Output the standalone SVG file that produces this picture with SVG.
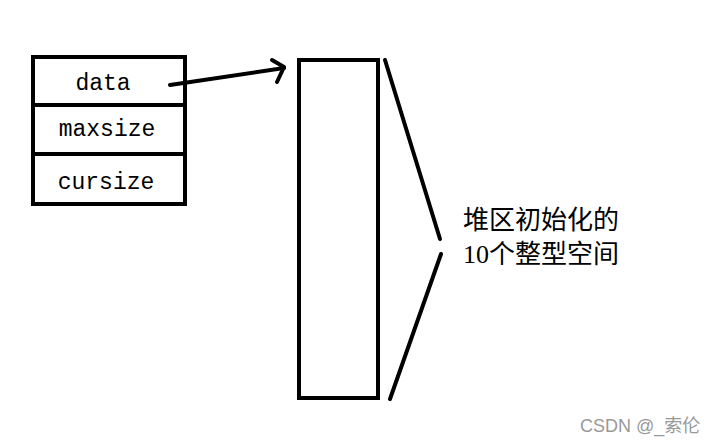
<svg xmlns="http://www.w3.org/2000/svg" width="715" height="443" viewBox="0 0 715 443">
<style>
.ln{fill:none;stroke:#000;stroke-width:4;stroke-linecap:round;stroke-linejoin:round}
.box{fill:#fff;stroke:#000;stroke-width:4}
.fld{font-family:"Liberation Mono","DejaVu Sans Mono",monospace;font-size:23px;fill:#000;text-anchor:middle}
.cjk{font-family:"Liberation Serif","Noto Sans CJK SC",serif;font-size:26px;fill:#000}
.wm{font-family:"Liberation Sans","Noto Sans CJK SC",sans-serif;font-size:18px;fill:#999}
</style>
<rect width="715" height="443" fill="#fff"/>
<g id="struct">
<rect class="box" x="33" y="57" width="152" height="147"/>
<line class="ln" x1="33" y1="105" x2="185" y2="105" stroke-linecap="butt"/>
<line class="ln" x1="33" y1="154" x2="185" y2="154" stroke-linecap="butt"/>
<text class="fld" x="103" y="90">data</text>
<text class="fld" x="107" y="136">maxsize</text>
<text class="fld" x="106" y="189">cursize</text>
</g>
<g id="heap">
<rect class="box" x="299" y="60" width="79" height="338"/>
</g>
<g id="connectors">
<line class="ln" x1="170" y1="85" x2="284" y2="68"/>
<polyline class="ln" points="272,60 284,67 277,82"/>
<line class="ln" x1="385" y1="60" x2="440" y2="239"/>
<line class="ln" x1="441" y1="254" x2="390" y2="399"/>
</g>
<g id="label">
<text class="cjk" x="463" y="229">堆区初始化的</text>
<text class="cjk" x="463" y="263">10个整型空间</text>
</g>
<text class="wm" x="580" y="432">CSDN @_索伦</text>
</svg>
